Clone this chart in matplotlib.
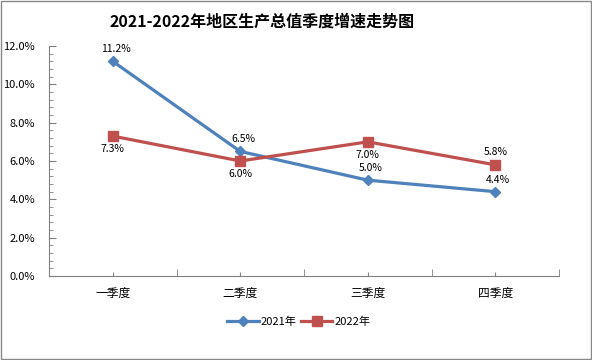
import numpy as np
import matplotlib.pyplot as plt
from matplotlib.ticker import MultipleLocator, FuncFormatter, FixedLocator

plt.rcParams['font.family'] = ['Noto Sans CJK SC', 'DejaVu Sans']

quarters = ['一季度', '二季度', '三季度', '四季度']
growth_2021 = [11.2, 6.5, 5.0, 4.4]
growth_2022 = [7.3, 6.0, 7.0, 5.8]
# label placement: +1 above the point, -1 below
pos_2021 = [1, 1, 1, 1]
pos_2022 = [-1, -1, -1, 1]

blue = '#4F81BD'
red = '#C0504D'

fig = plt.figure(figsize=(5.92, 3.6), dpi=100)
ax = fig.add_axes([49 / 592, 1 - 276 / 360, (559 - 49) / 592, (276 - 46) / 360])

x = np.arange(len(quarters))
ax.plot(x, growth_2021, color=blue, lw=2.3, marker='D', ms=5, label='2021年')
ax.plot(x, growth_2022, color=red, lw=2.3, marker='s', ms=7, label='2022年')

for xi, v, p in zip(x, growth_2021, pos_2021):
    ax.annotate(f'{v:.1f}%', (xi, v), xytext=(2, 5 * p), textcoords='offset points',
                ha='center', va='bottom' if p > 0 else 'top', fontsize=7.5)
for xi, v, p in zip(x, growth_2022, pos_2022):
    ax.annotate(f'{v:.1f}%', (xi, v), xytext=(0, 6 * p), textcoords='offset points',
                ha='center', va='bottom' if p > 0 else 'top', fontsize=7.5)

ax.set_xlim(-0.5, len(quarters) - 0.5)
ax.set_ylim(0, 12)
ax.yaxis.set_major_locator(MultipleLocator(2))
ax.yaxis.set_minor_locator(MultipleLocator(0.4))
ax.yaxis.set_major_formatter(FuncFormatter(lambda v, _: f'{v:.1f}%'))
ax.set_xticks(x)
ax.set_xticklabels(quarters, fontsize=8.5)
ax.xaxis.set_minor_locator(FixedLocator(np.arange(-0.5, len(quarters), 1.0)))

ax.tick_params(axis='y', which='both', direction='in', labelsize=8, pad=10)
ax.tick_params(axis='y', which='major', length=5, color='#808080')
ax.tick_params(axis='y', which='minor', length=3, color='#808080')
ax.tick_params(axis='x', which='major', direction='in', length=3, color='#808080', pad=8)
ax.tick_params(axis='x', which='minor', direction='in', length=5, color='#808080')

for side in ['top', 'right']:
    ax.spines[side].set_visible(False)
for side in ['left', 'bottom']:
    ax.spines[side].set_color('#808080')

fig.text(0.443, 0.94, '2021-2022年地区生产总值季度增速走势图', fontsize=11.5,
         fontweight='bold', ha='center', va='center')

fig.legend(loc='center', bbox_to_anchor=(0.505, 0.105), ncol=2, frameon=False,
           fontsize=8, handlelength=2.8, columnspacing=0.4, handletextpad=0.2)

fig.patches.append(plt.Rectangle((0.001, 0.002), 0.997, 0.995, transform=fig.transFigure,
                                 fill=False, edgecolor='#888888', lw=1))

fig.savefig('out.png', dpi=100)
